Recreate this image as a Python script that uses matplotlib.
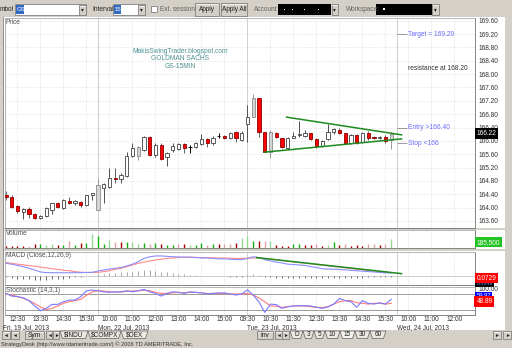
import numpy as np
import matplotlib
matplotlib.use('Agg')
import matplotlib.pyplot as plt
from matplotlib.patches import Rectangle, Polygon

plt.rcParams['font.family'] = ['Liberation Sans', 'DejaVu Sans']

# GS 15-min bars, Fri 19 Jul 12:00 -> Tue 23 Jul 15:45
opens = [164.39, 164.33, 164.05, 163.87, 163.95, 163.81, 163.68, 163.75, 163.93, 164.15,
         163.98, 164.20, 164.13, 164.17, 164.07, 164.38, 163.93, 164.58, 164.63, 164.90,
         164.85, 164.95, 165.56, 165.56, 165.73, 166.13, 165.58, 165.88, 165.53, 165.73,
         165.75, 165.90, 165.81, 165.83, 165.90, 166.05, 165.95, 166.16, 166.16, 166.08,
         166.27, 166.03, 166.50, 166.72, 167.27, 166.28, 165.68, 166.25, 166.08, 165.78,
         166.10, 166.17, 166.16, 166.23, 166.05, 165.85, 166.05, 166.27, 166.33, 166.23,
         165.95, 166.18, 165.98, 166.25, 166.13, 166.08, 166.13, 166.03]
highs = [164.51, 164.38, 164.08, 163.99, 164.03, 163.84, 163.78, 164.03, 164.15, 164.17,
         164.25, 164.33, 164.23, 164.21, 164.39, 164.45, 164.88, 164.73, 165.18, 165.18,
         165.04, 165.68, 165.95, 165.85, 166.16, 166.16, 165.93, 165.93, 165.68, 165.93,
         165.94, 165.93, 165.88, 165.98, 166.20, 166.08, 166.15, 166.23, 166.18, 166.28,
         166.29, 166.31, 167.07, 167.40, 167.28, 166.28, 166.33, 166.28, 166.10, 166.13,
         166.28, 166.60, 166.33, 166.25, 166.08, 166.03, 166.50, 166.40, 166.40, 166.25,
         166.20, 166.21, 166.28, 166.30, 166.15, 166.16, 166.18, 166.27]
lows = [164.23, 163.99, 163.85, 163.65, 163.68, 163.65, 163.65, 163.72, 163.81, 163.99,
        163.95, 164.11, 164.08, 164.03, 164.05, 164.23, 163.91, 164.13, 164.58, 164.73,
        164.74, 164.93, 165.53, 165.43, 165.70, 165.55, 165.53, 165.43, 165.25, 165.68,
        165.73, 165.65, 165.63, 165.78, 165.88, 165.83, 165.89, 166.08, 166.05, 166.06,
        165.98, 166.01, 165.98, 166.71, 166.11, 165.66, 165.48, 166.08, 165.78, 165.73,
        166.08, 166.13, 166.13, 166.03, 165.78, 165.81, 166.03, 166.22, 166.20, 165.92,
        165.92, 165.92, 165.95, 166.03, 166.05, 166.05, 165.95, 165.75]
closes = [164.31, 164.03, 163.91, 163.95, 163.81, 163.68, 163.75, 163.98, 164.13, 164.01,
          164.23, 164.13, 164.20, 164.08, 164.37, 164.44, 164.68, 164.70, 164.88, 164.87,
          164.98, 165.55, 165.78, 165.81, 166.13, 165.58, 165.88, 165.45, 165.65, 165.85,
          165.90, 165.80, 165.81, 165.95, 166.05, 165.95, 166.10, 166.16, 166.08, 166.25,
          166.08, 166.25, 166.71, 167.27, 166.28, 165.68, 166.28, 166.13, 165.81, 166.08,
          166.16, 166.20, 166.23, 166.05, 165.85, 166.00, 166.28, 166.35, 166.23, 165.95,
          166.18, 165.95, 166.25, 166.08, 166.08, 166.13, 166.00, 166.22]
# w hollow up, r red down, g grey up, d doji
candle_kind = list("rrrwrrwwwrwrwrwwgwwrwwwgwrwrwwwrdwwrwdrwrwwgrrgrrwwwwrrwwwrrwrwrrwrg")

volumes = [46, 46, 46, 46, 46, 70, 70, 62, 85, 62,
           54, 147, 62, 108, 93, 309, 263, 70, 170, 116,
           116, 131, 116, 77, 108, 70, 93, 85, 54, 54,
           70, 85, 54, 54, 108, 54, 70, 85, 85, 85,
           108, 209, 263, 155, 155, 155, 155, 54, 39, 39,
           85, 77, 54, 54, 70, 39, 54, 116, 54, 70,
           39, 54, 39, 77, 77, 54, 77, 185.5]  # thousands
vol_kind = list("rrrrprgllrgpgrglgglprgllgpgrggprlggpgrpprllgrplrrrggrrprlgrprrrpprpl")

macd = [0.30, 0.28, 0.25, 0.22, 0.18, 0.14, 0.09, 0.075, 0.073, 0.072,
        0.072, 0.072, 0.073, 0.075, 0.078, 0.08, 0.115, 0.14, 0.16, 0.18,
        0.20, 0.235, 0.28, 0.34, 0.42, 0.46, 0.48, 0.48, 0.47, 0.46,
        0.455, 0.45, 0.45, 0.44, 0.43, 0.43, 0.42, 0.41, 0.41, 0.40,
        0.39, 0.39, 0.42, 0.46, 0.44, 0.39, 0.36, 0.33, 0.31, 0.28,
        0.27, 0.26, 0.25, 0.22, 0.20, 0.17, 0.16, 0.16, 0.15, 0.14,
        0.13, 0.12, 0.11, 0.10, 0.09, 0.08, 0.07, 0.066]
signal = [0.32, 0.30, 0.28, 0.265, 0.245, 0.23, 0.21, 0.19, 0.17, 0.155,
          0.135, 0.12, 0.10, 0.085, 0.078, 0.08, 0.082, 0.10, 0.12, 0.155,
          0.18, 0.22, 0.26, 0.30, 0.33, 0.36, 0.38, 0.40, 0.42, 0.43,
          0.44, 0.45, 0.45, 0.445, 0.44, 0.44, 0.435, 0.43, 0.43, 0.425,
          0.42, 0.42, 0.425, 0.43, 0.43, 0.415, 0.40, 0.385, 0.37, 0.35,
          0.335, 0.32, 0.305, 0.29, 0.27, 0.255, 0.24, 0.225, 0.21, 0.19,
          0.175, 0.16, 0.145, 0.13, 0.12, 0.10, 0.09, 0.073]
hist = [-0.03, -0.05, -0.07, -0.08, -0.09, -0.10, -0.10, -0.10, -0.09, -0.08,
        -0.07, -0.06, -0.04, -0.03, -0.01, 0.0, 0.03, 0.05, 0.06, 0.07,
        0.08, 0.09, 0.10, 0.12, 0.13, 0.13, 0.12, 0.10, 0.08, 0.06,
        0.05, 0.03, 0.02, 0.01, 0.0, 0.0, -0.01, -0.01, -0.01, -0.02,
        -0.02, -0.02, 0.01, 0.03, 0.02, -0.02, -0.04, -0.05, -0.06, -0.06,
        -0.06, -0.06, -0.06, -0.06, -0.06, -0.06, -0.06, -0.06, -0.05, -0.05,
        -0.05, -0.05, -0.05, -0.04, -0.04, -0.04, -0.03, -0.03]

stoch_k = [82, 72, 70, 66, 55, 35, 17, 26, 41, 41,
           51, 57, 57, 70, 92, 95, 92, 88, 86, 88,
           88, 92, 88, 92, 97, 88, 82, 72, 82, 88,
           86, 82, 88, 86, 84, 80, 82, 84, 84, 80,
           76, 80, 95, 76, 50, 11, 42, 40, 26, 32,
           35, 36, 36, 35, 30, 26, 32, 42, 63, 55,
           51, 30, 55, 45, 42, 47, 42, 60]
stoch_d = [80, 76, 70, 64, 55, 44, 31, 21, 26, 35,
           45, 51, 55, 60, 75, 88, 92, 91, 88, 87,
           87, 90, 91, 92, 94, 92, 86, 82, 82, 84,
           86, 84, 86, 86, 84, 82, 82, 82, 81, 80,
           80, 80, 82, 76, 65, 51, 35, 34, 30, 32,
           35, 35, 35, 32, 30, 29, 32, 42, 51, 55,
           55, 47, 45, 42, 45, 45, 42, 45]

price_ticks = [163.60, 164.00, 164.40, 164.80, 165.20, 165.60, 166.00, 166.40,
               166.80, 167.20, 167.60, 168.00, 168.40, 168.80, 169.20, 169.60]
time_pos = [2, 6, 10, 14, 18, 22, 26, 30, 34, 38, 42, 46, 50, 54, 58, 62, 66, 70, 74, 78]
time_labels = ["12:30", "13:30", "14:30", "15:30", "10:00", "11:00", "12:00", "13:00",
               "14:00", "15:00", "09:30", "10:30", "11:30", "12:30", "13:30", "14:30",
               "15:30", "10:00", "11:00", "12:00"]
date_pos = [-0.5, 16, 42, 68]
date_labels = ["Fri, 19 Jul, 2013", "Mon, 22 Jul, 2013", "Tue, 23 Jul, 2013", "Wed, 24 Jul, 2013"]
session_starts = [16, 42, 68]

# drawn trendlines (bar index, value)
tri_upper = ([48.8, 68.8], [166.71, 166.18])
tri_lower = ([44.9, 68.8], [165.66, 166.06])
macd_trend = ([43.6, 68.8], [0.44, 0.05])

WIN = '#d4d0c8'
GRID = '#d4d4d4'
W, H = 512, 348
XLIM = (-0.17, 81.57)
FS = 4.7

fig = plt.figure(figsize=(W / 100, H / 100), dpi=100)
fig.patch.set_facecolor(WIN)

# pixel canvas for the window chrome
bg = fig.add_axes([0, 0, 1, 1])
bg.set_xlim(0, W)
bg.set_ylim(H, 0)
bg.axis('off')
bg.set_zorder(-1)


def rect(x0, y0, x1, y1, fc, ec='none', lw=0.6, z=1):
    bg.add_patch(Rectangle((x0, y0), x1 - x0, y1 - y0, fc=fc, ec=ec, lw=lw, zorder=z))


def txt(x, y, s, size=FS, color='#202020', ha='left', z=3, **kw):
    bg.text(x, y, s, fontsize=size, color=color, ha=ha, va='center', zorder=z, **kw)


def button(x0, y0, x1, y1, s, fc=WIN, size=FS):
    rect(x0, y0, x1, y1, fc, ec='#808080', lw=0.6, z=2)
    bg.plot([x0 + 0.6, x1 - 0.6], [y0 + 0.6, y0 + 0.6], color='white', lw=0.5, zorder=3)
    txt((x0 + x1) / 2, (y0 + y1) / 2 + 0.3, s, size=size, ha='center')


# white panel backgrounds
rect(3, 17, 505, 228.3, 'white')
rect(3, 229.6, 505, 248.6, 'white')
rect(3, 250.8, 505, 285.6, 'white')
rect(3, 286.4, 505, 330, 'white')
bg.plot([2.5, 2.5], [17, 330], color='#808080', lw=0.6, zorder=2)

# toolbar
txt(0, 9.5, "mbol")
rect(15, 4, 86, 15, 'white', ec='#808080', z=2)
rect(16, 5, 24, 14, '#316ac5', z=3)
txt(17, 9.7, "GS", color='white', size=4.3, z=4)
button(79, 5, 85.5, 14.5, "\u25be", size=4)
txt(92, 9.5, "Interval")
rect(113, 4, 145, 15, 'white', ec='#808080', z=2)
rect(114, 5, 121, 14, '#316ac5', z=3)
txt(114.5, 9.7, "15", color='white', size=4.3, z=4)
button(138, 5, 144.5, 14.5, "\u25be", size=4)
rect(151, 5.5, 157, 12, 'white', ec='#808080', z=2)
txt(160, 9.5, "Ext. session", color='#606060')
button(195, 3, 219, 15.5, "Apply")
button(221, 3, 247, 15.5, "Apply All")
txt(254, 9.5, "Account", color='#606060')
rect(278, 4, 331, 15, 'black', z=2)
for xd in (284, 292, 304, 318):
    rect(xd, 8.5, xd + 1.2, 10, 'white', z=3)
button(331.5, 4, 338, 15, "\u25be", size=4)
txt(346, 9.5, "Workspace:", color='#606060')
rect(376, 4, 432, 15, 'black', z=2)
rect(383, 7.5, 384.5, 10, 'white', z=3)
button(432, 4, 438.5, 15, "\u25be", size=4)

# bottom tabs and status line
button(2, 331, 9.5, 338.5, "\u25c4", size=3.4)
button(11, 331, 18.5, 338.5, "\u25c4", size=3.4)
button(25, 331, 44, 338.5, "Sym")
button(46, 331, 52, 338.5, "\u25c4", size=3.4)
button(53, 331, 59, 338.5, "\u25ba", size=3.4)
for x0, x1, s in [(60, 88, "$INDU"), (88, 121, "$COMPX"), (121, 148, "$OEX")]:
    bg.add_patch(Polygon([(x0, 331), (x1, 331), (x1 - 2.5, 338.5), (x0 + 2.5, 338.5)],
                         closed=True, fc='#ece9e2', ec='#606060', lw=0.5, zorder=2))
    txt((x0 + x1) / 2, 334.9, s, ha='center')
button(257, 331, 273, 338.5, "Inv")
button(275, 331, 281.5, 338.5, "\u25c4", size=3.4)
button(282, 331, 288.5, 338.5, "\u25ba", size=3.4)
for x0, x1, s in [(290, 303, "D"), (303, 314, "3"), (314, 325, "5"), (325, 340, "10"),
                  (340, 355, "15"), (355, 370, "30"), (370, 386, "60")]:
    fc = '#f4f3ef' if s == "15" else '#ece9e2'
    bg.add_patch(Polygon([(x0, 331), (x1, 331), (x1 - 2.5, 338.5), (x0 + 2.5, 338.5)],
                         closed=True, fc=fc, ec='#606060', lw=0.5, zorder=2))
    txt((x0 + x1) / 2, 334.9, s, ha='center')
button(493, 331, 500.5, 338.5, "\u25ba", size=3.4)
button(503, 331, 511, 338.5, "\u25ba", size=3.4)
txt(1, 344, "StrategyDesk (http://www.tdameritrade.com/) \u00a9 2006 TD AMERITRADE, Inc.",
    size=4.1, color='#303030')


def panel(y0, y1, ylim):
    ax = fig.add_axes([5 / W, 1 - y1 / H, 470 / W, (y1 - y0) / H])
    ax.set_facecolor('none')
    ax.set_xlim(*XLIM)
    ax.set_ylim(*ylim)
    for side, sp in ax.spines.items():
        sp.set_linewidth(0.6)
        sp.set_color('#707070' if side in ('right', 'bottom') else '#a8a8a8')
    ax.set_xticks(time_pos)
    ax.tick_params(axis='x', length=0, labelbottom=False)
    ax.yaxis.tick_right()
    ax.tick_params(axis='y', length=0, pad=2.2, labelsize=FS, labelcolor='#303030')
    ax.set_yticks([])
    ax.grid(axis='x', color=GRID, lw=0.5, linestyle=(0, (1, 1.5)))
    ax.vlines(session_starts, *ylim, color='#c8c8c8', lw=0.6, zorder=0.5)
    ax.set_axisbelow(True)
    return ax


idx = np.arange(len(opens))

# ---- price panel
axp = panel(18, 228, (163.39, 169.68))
axp.set_yticks(price_ticks)
axp.set_yticklabels([f"{t:.2f}" for t in price_ticks])
axp.grid(axis='y', color=GRID, lw=0.5, linestyle=(0, (1, 1.5)))
face = {'w': 'white', 'r': '#ff0000', 'g': '#d4d4d4', 'd': 'black'}
edge = {'w': '#404040', 'r': '#8a0000', 'g': '#8c8c8c', 'd': 'black'}
wick = {'w': '#505050', 'r': '#606060', 'g': '#9a9a9a', 'd': 'black'}
o = np.array(opens)
c = np.array(closes)
axp.vlines(idx, lows, highs, colors=[wick[k] for k in candle_kind], lw=0.7, zorder=2)
axp.bar(idx, np.abs(c - o), bottom=np.minimum(o, c), width=0.55,
        color=[face[k] for k in candle_kind], edgecolor=[edge[k] for k in candle_kind],
        linewidth=0.6, zorder=3)
axp.plot(*tri_upper, color='#1e8a1e', lw=1.1, zorder=4)
axp.plot(*tri_lower, color='#1e8a1e', lw=1.1, zorder=4)

axp.text(0.0, 169.64, "Price", fontsize=FS, color='#505050', va='top', ha='left')
for yv, s in [(168.69, "MakisSwingTrader.blogspot.com"), (168.47, "GOLDMAN SACHS"),
              (168.24, "GS-15MIN")]:
    axp.text(30.3, yv, s, fontsize=4.8, color='#4f9090', ha='center', va='center')
note_c = '#6a6aff'
for yv, s in [(169.20, "Target = 169.20"), (166.40, "Entry >166.40"), (165.93, "Stop <166")]:
    axp.hlines(yv, 68.0, 69.8, color='#8a8a8a', lw=0.6)
    axp.text(69.9, yv, s, fontsize=4.8, color=note_c, va='center', ha='left')
axp.text(69.9, 168.17, "resistance at 168.20", fontsize=4.8, color='#303030', va='center')
axp.text(1.003, closes[-1], f"{closes[-1]:.2f}", transform=axp.get_yaxis_transform(),
         fontsize=FS, color='white', va='center', ha='left', zorder=6, clip_on=False,
         bbox=dict(boxstyle='square,pad=0.25', fc='black', ec='none'))

# ---- volume panel
axv = panel(230, 247.5, (0, 405))
vcol = {'g': '#12b012', 'r': '#a80000', 'l': '#94d894', 'p': '#e0a0a8'}
axv.vlines(idx, 0, volumes, colors=[vcol[k] for k in vol_kind], lw=1.0, zorder=2)
axv.text(0.0, 395, "Volume", fontsize=FS, color='#505050', va='top')
axv.text(1.003, 0.3, f"{volumes[-1] * 1000:,.0f}", transform=axv.transAxes, fontsize=FS,
         color='white', va='center', ha='left', clip_on=False,
         bbox=dict(boxstyle='square,pad=0.25', fc='#22c322', ec='none'))

# ---- MACD panel
axm = panel(251.7, 285, (-0.226, 0.583))
axm.axhline(0, color='#c4c4c4', lw=0.6, zorder=1)
h = np.array(hist)
axm.vlines(idx, 0, h, colors=np.where(h >= 0, '#9a9a9a', '#505050'), lw=0.6, zorder=2)
axm.plot(idx, signal, color='#ff8a8a', lw=0.8, zorder=3)
axm.plot(idx, macd, color='#8c8cff', lw=0.8, zorder=3)
axm.plot(*macd_trend, color='#1e8a1e', lw=1.1, zorder=4)
axm.text(0.0, 0.57, "MACD (Close,12,26,9)", fontsize=FS, color='#505050', va='top')
axm.text(1.003, 0.21, "0.0729", transform=axm.transAxes, fontsize=FS, color='white',
         va='center', ha='left', clip_on=False, zorder=6,
         bbox=dict(boxstyle='square,pad=0.25', fc='#ff0000', ec='none'))
axm.text(1.003, 0.05, "0.0649", transform=axm.transAxes, fontsize=3.8, color='#8c8cff',
         va='center', ha='left', clip_on=False, zorder=5,
         bbox=dict(boxstyle='square,pad=0.2', fc='black', ec='none'))

# ---- stochastic panel
axs = panel(286.7, 315.3, (0, 107.2))
axs.axhline(80, color='#8c8c8c', lw=0.6, zorder=1)
axs.axhline(20, color='#8c8c8c', lw=0.6, zorder=1)
axs.plot(idx, stoch_d, color='#ff7a7a', lw=0.8, zorder=3)
axs.plot(idx, stoch_k, color='#7a7aff', lw=0.8, zorder=3)
axs.set_yticks([100])
axs.set_yticklabels(["100.00"])
axs.text(0.0, 105, "Stochastic (14,3,1)", fontsize=FS, color='#505050', va='top')
axs.text(1.003, 75, "59.97", transform=axs.get_yaxis_transform(), fontsize=4.2,
         color='white', va='center', ha='left', clip_on=False, zorder=5,
         bbox=dict(boxstyle='square,pad=0.2', fc='#0000ff', ec='none'))
axs.text(1.003, 51, "48.89", transform=axs.get_yaxis_transform(), fontsize=FS,
         color='white', va='center', ha='left', clip_on=False, zorder=6,
         bbox=dict(boxstyle='square,pad=0.3', fc='#ff0000', ec='none'))
axs.set_xticklabels(time_labels)
axs.tick_params(axis='x', labelbottom=True, labelsize=FS, labelcolor='#303030', pad=0.6)
dtr = axs.get_xaxis_transform()
for xp, s in zip(date_pos, date_labels):
    axs.text(xp, -0.43, s, transform=dtr, fontsize=FS, color='#303030', ha='left',
             va='center', clip_on=False)

fig.savefig("out.png", dpi=100, facecolor=fig.get_facecolor())
